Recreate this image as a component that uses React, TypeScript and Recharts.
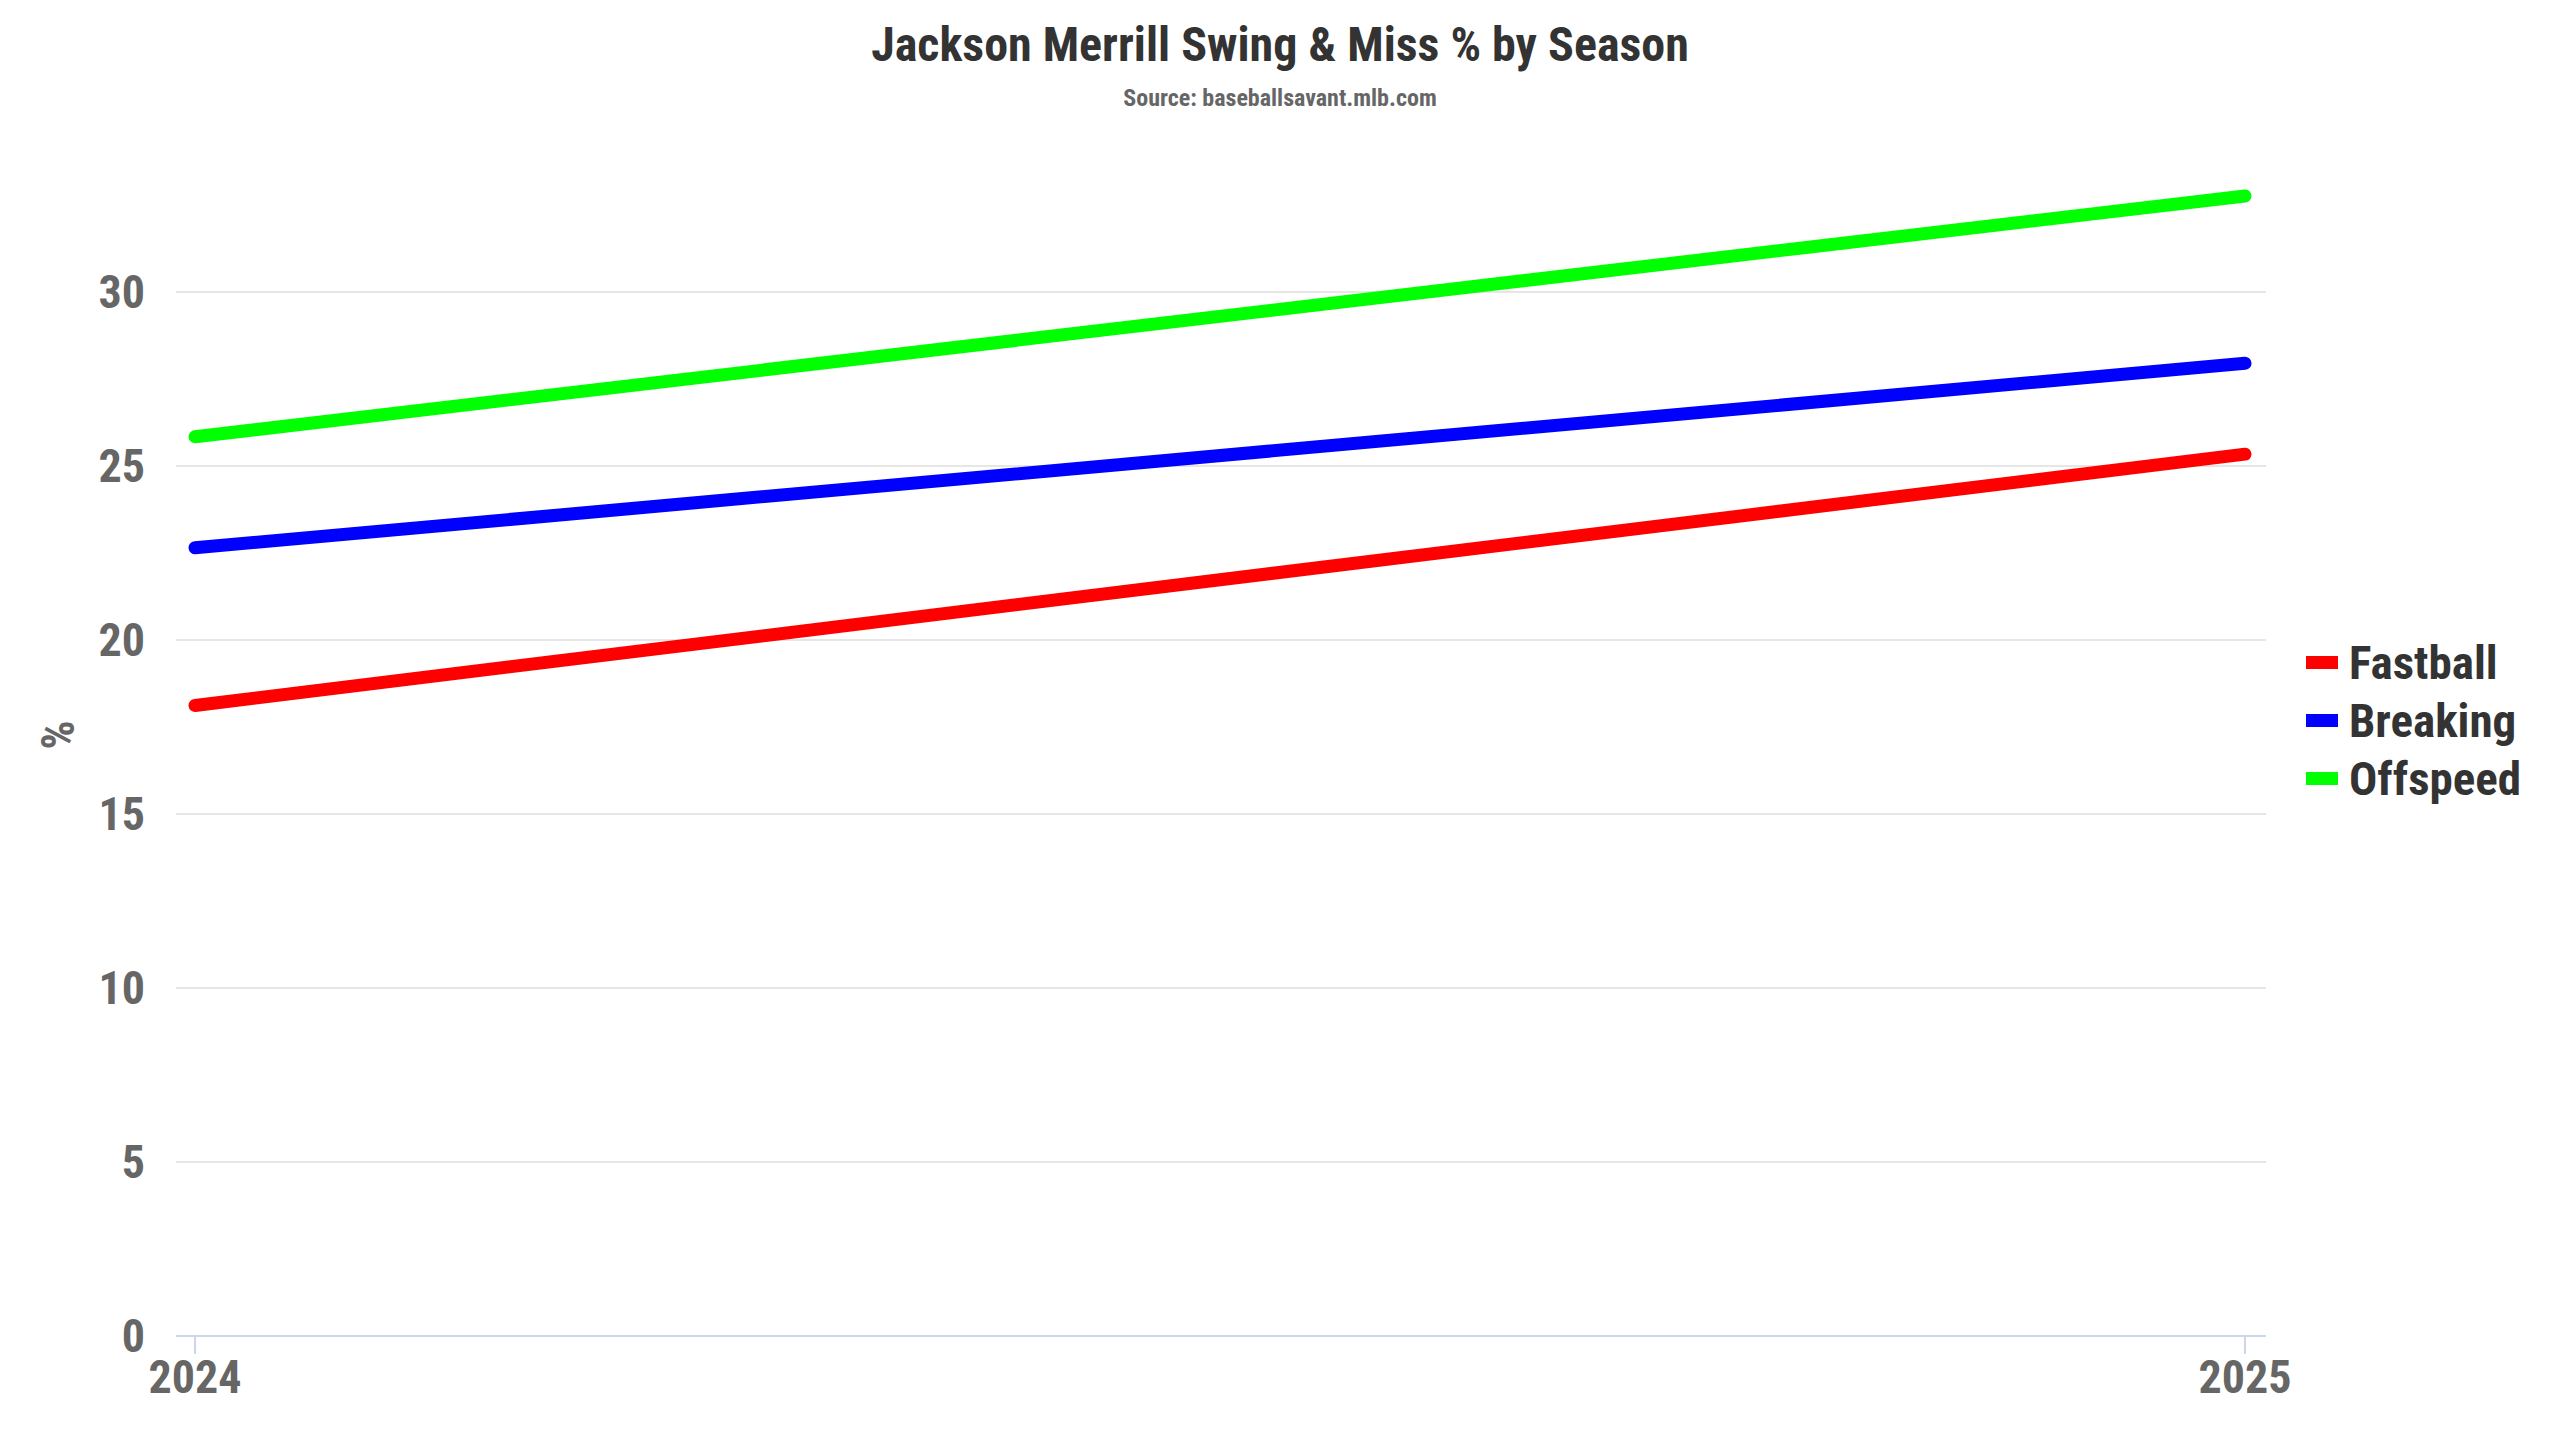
import { CartesianGrid, Legend, Line, LineChart, XAxis, YAxis, Label } from 'recharts';

const seasons = ['2024', '2025'];
const fastball = [18.12, 25.34];
const breaking = [22.65, 27.95];
const offspeed = [25.84, 32.76];
const yTicks = [0, 5, 10, 15, 20, 25, 30];
const seriesOrder = ['Fastball', 'Breaking', 'Offspeed'];

const FONT = "'Roboto Condensed', 'Liberation Sans Narrow', 'DejaVu Sans Condensed', Roboto, sans-serif";

const data = seasons.map((season, i) => ({
  season,
  Fastball: fastball[i],
  Breaking: breaking[i],
  Offspeed: offspeed[i],
}));

function renderLegend(props: any) {
  const payload = [...props.payload].sort(
    (a: any, b: any) => seriesOrder.indexOf(a.value) - seriesOrder.indexOf(b.value)
  );
  return (
    <div style={{ fontFamily: FONT, fontStretch: 'condensed' }}>
      {payload.map((entry: any) => (
        <div
          key={entry.value}
          style={{ display: 'flex', alignItems: 'center', height: 58 }}
        >
          <span
            style={{
              display: 'inline-block',
              width: 32,
              height: 13,
              background: entry.color,
              marginRight: 11,
            }}
          />
          <span style={{ fontSize: 47, fontWeight: 700, color: '#333' }}>{entry.value}</span>
        </div>
      ))}
    </div>
  );
}

export default function App() {
  return (
    <div
      style={{
        position: 'absolute',
        left: 0,
        top: 0,
        width: 2560,
        height: 1440,
        background: '#fff',
        fontFamily: FONT,
        fontStretch: 'condensed',
      }}
    >
      <div
        style={{
          position: 'absolute',
          top: 16,
          width: '100%',
          textAlign: 'center',
          fontSize: 48,
          fontWeight: 700,
          color: '#333',
        }}
      >
        Jackson Merrill Swing &amp; Miss % by Season
      </div>
      <div
        style={{
          position: 'absolute',
          top: 84,
          width: '100%',
          textAlign: 'center',
          fontSize: 24,
          fontWeight: 700,
          color: '#666',
        }}
      >
        Source: baseballsavant.mlb.com
      </div>
      <LineChart
        width={2560}
        height={1440}
        data={data}
        margin={{ top: 118, right: 40, left: 0, bottom: 0 }}
      >
        <CartesianGrid vertical={false} stroke="#e6e6e6" strokeWidth={2} syncWithTicks />
        <XAxis
          dataKey="season"
          height={104}
          padding={{ left: 19, right: 21 }}
          stroke="#ccd6eb"
          strokeWidth={2}
          tickSize={18}
          tickMargin={6}
          tick={{ fill: '#666', fontSize: 46, fontWeight: 700, fontFamily: FONT }}
        />
        <YAxis
          width={176}
          domain={[0, 35]}
          ticks={yTicks}
          axisLine={false}
          tickLine={false}
          tickSize={0}
          tickMargin={31}
          tick={{ fill: '#666', fontSize: 46, fontWeight: 700, fontFamily: FONT }}
        >
          <Label
            value="%"
            angle={-90}
            position="insideLeft"
            offset={58}
            textAnchor="middle"
            dy={8}
            style={{ fill: '#666', fontSize: 46, fontWeight: 700, fontFamily: FONT }}
          />
        </YAxis>
        <Legend
          layout="horizontal"
          verticalAlign="middle"
          align="right"
          content={renderLegend}
          wrapperStyle={{ left: 2306, top: 633, width: 254 }}
        />
        <Line type="linear" dataKey="Fastball" stroke="#ff0000" strokeWidth={13} strokeLinecap="round" dot={false} isAnimationActive={false} />
        <Line type="linear" dataKey="Breaking" stroke="#0000ff" strokeWidth={13} strokeLinecap="round" dot={false} isAnimationActive={false} />
        <Line type="linear" dataKey="Offspeed" stroke="#00ff00" strokeWidth={13} strokeLinecap="round" dot={false} isAnimationActive={false} />
      </LineChart>
    </div>
  );
}
